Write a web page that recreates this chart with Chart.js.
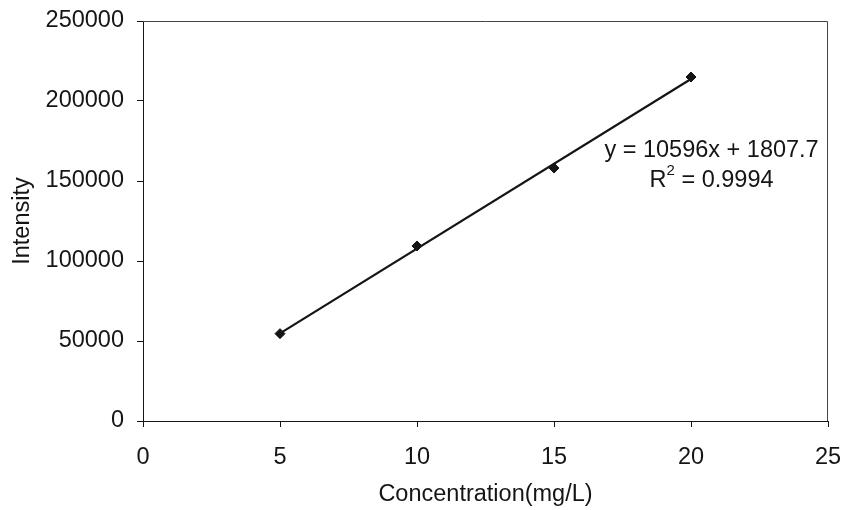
<!DOCTYPE html>
<html>
<head>
<meta charset="utf-8">
<script src="https://cdn.jsdelivr.net/npm/chart.js@4.4.1/dist/chart.umd.min.js"></script>
<style>
  html, body { margin: 0; padding: 0; background: #fff; }
</style>
</head>
<body>
<canvas id="calChart" width="844" height="510"></canvas>
<script>
// calibration data
var concentration = [5, 10, 15, 20];
var intensity = [54600, 109400, 158100, 215000];
var xTicks = [0, 5, 10, 15, 20, 25];
var yTicks = [0, 50000, 100000, 150000, 200000, 250000];

// linear trendline as printed on the chart
var slope = 10596;
var intercept = 1807.7;
var trendX = [5, 20];
var equationText = 'y = 10596x + 1807.7';
var r2Value = '0.9994';

var FONT = '"Liberation Sans", Arial, sans-serif';
var FSIZE = 23.5;
var INK = '#151515';

var trendPoints = trendX.map(function (x) { return { x: x, y: slope * x + intercept }; });
var dataPoints = concentration.map(function (x, i) { return { x: x, y: intensity[i] }; });

// frame round the plot area + the equation box text
var plotExtras = {
  id: 'plotExtras',
  afterDatasetsDraw: function (chart) {
    var c = chart.ctx, a = chart.chartArea;
    var xs = chart.scales.x, ys = chart.scales.y;
    c.save();
    c.strokeStyle = '#444';
    c.lineWidth = 1;
    c.beginPath();
    c.moveTo(a.left, a.top + 0.5);
    c.lineTo(a.right - 0.5, a.top + 0.5);
    c.lineTo(a.right - 0.5, a.bottom);
    c.stroke();

    var cx = xs.getPixelForValue(20.75);
    var y1 = ys.getPixelForValue(169000);
    var y2 = ys.getPixelForValue(150500);
    c.fillStyle = INK;
    c.textBaseline = 'middle';
    c.textAlign = 'center';
    c.font = FSIZE + 'px ' + FONT;
    c.fillText(equationText, cx, y1);

    // R² with a raised 2
    c.textAlign = 'left';
    var rest = ' = ' + r2Value;
    var wR = c.measureText('R').width;
    var wRest = c.measureText(rest).width;
    c.font = '15px ' + FONT;
    var w2 = c.measureText('2').width;
    var x0 = cx - (wR + w2 + wRest) / 2;
    c.font = FSIZE + 'px ' + FONT;
    c.fillText('R', x0, y2);
    c.font = '15px ' + FONT;
    c.fillText('2', x0 + wR, y2 - 9);
    c.font = FSIZE + 'px ' + FONT;
    c.fillText(rest, x0 + wR + w2, y2);
    c.restore();
  }
};

var ctx = document.getElementById('calChart').getContext('2d');
var myChart = new Chart(ctx, {
  type: 'scatter',
  data: {
    datasets: [{
      label: 'Trendline',
      data: trendPoints,
      showLine: true,
      borderColor: INK,
      borderWidth: 2.2,
      pointRadius: 0,
      order: 2
    }, {
      label: 'Intensity',
      data: dataPoints,
      pointStyle: 'rectRot',
      pointRadius: 5,
      backgroundColor: INK,
      borderColor: INK,
      borderWidth: 1,
      order: 1
    }]
  },
  options: {
    responsive: false,
    animation: false,
    devicePixelRatio: 1,
    layout: { padding: { left: 6, right: 16, top: 21, bottom: 0 } },
    plugins: {
      legend: { display: false },
      tooltip: { enabled: false }
    },
    scales: {
      x: {
        type: 'linear',
        min: 0,
        max: 25,
        afterBuildTicks: function (s) { s.ticks = xTicks.map(function (v) { return { value: v }; }); },
        afterFit: function (s) { s.height = 89; s.paddingLeft = 0; s.paddingRight = 0; },
        grid: { drawOnChartArea: false, drawTicks: true, tickLength: 6, color: INK },
        border: { display: true, color: INK, width: 1 },
        ticks: { color: INK, font: { family: FONT, size: FSIZE }, padding: 16, maxRotation: 0 },
        title: {
          display: true,
          text: 'Concentration(mg/L)',
          color: INK,
          font: { family: FONT, size: FSIZE },
          padding: { top: 0, bottom: 1 }
        }
      },
      y: {
        type: 'linear',
        min: 0,
        max: 250000,
        afterBuildTicks: function (s) { s.ticks = yTicks.map(function (v) { return { value: v }; }); },
        afterFit: function (s) { s.width = 137; s.paddingTop = 0; s.paddingBottom = 0; },
        grid: { drawOnChartArea: false, drawTicks: true, tickLength: 6, color: INK },
        border: { display: true, color: INK, width: 1 },
        ticks: {
          color: INK,
          font: { family: FONT, size: FSIZE },
          padding: 13,
          callback: function (v) { return String(v); }
        },
        title: {
          display: true,
          text: 'Intensity',
          color: INK,
          font: { family: FONT, size: FSIZE },
          padding: { top: 2, bottom: 0 }
        }
      }
    }
  },
  plugins: [plotExtras]
});
</script>
</body>
</html>
